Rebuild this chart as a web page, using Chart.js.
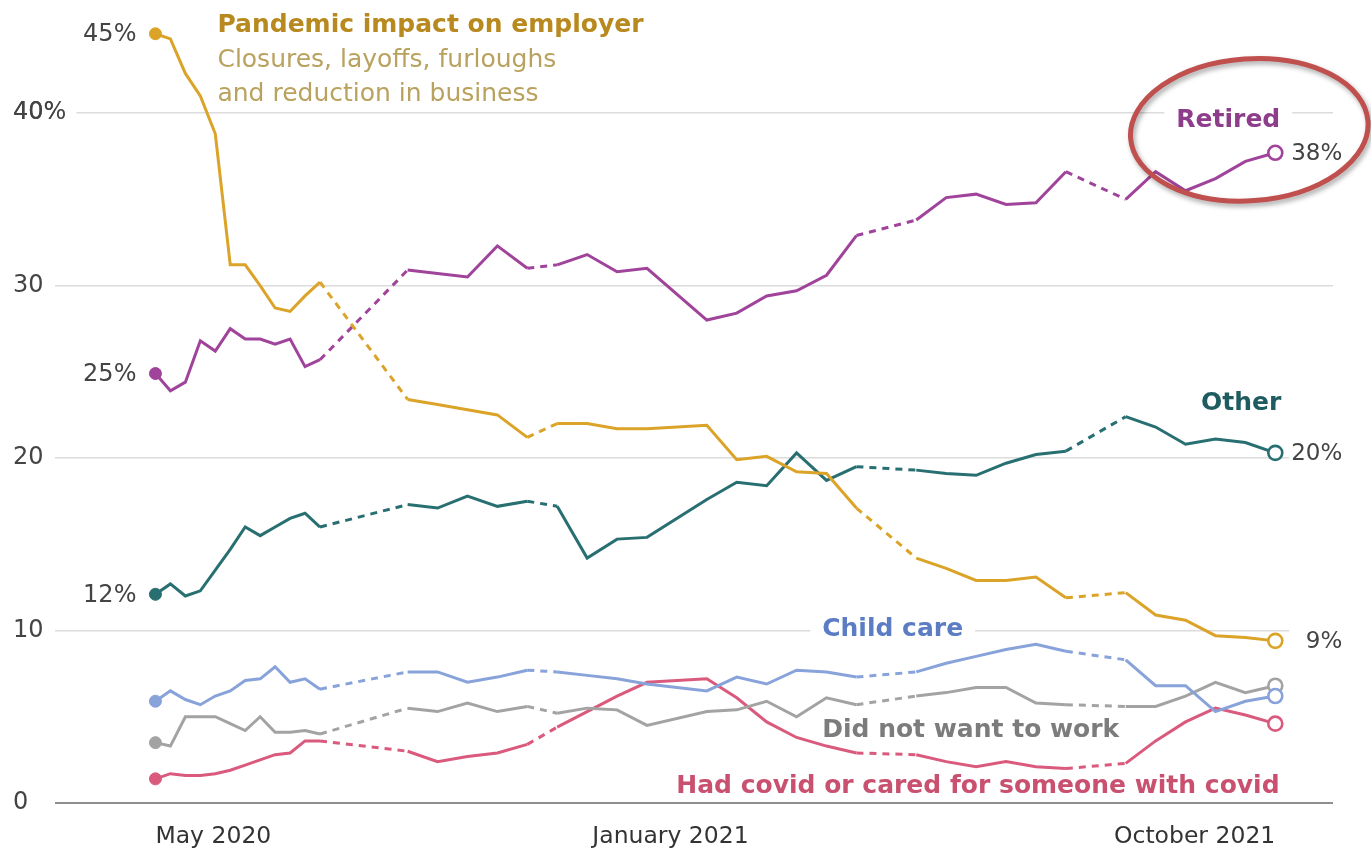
<!DOCTYPE html>
<html lang="en">
<head>
<meta charset="UTF-8">
<title>Reasons for not working</title>
<script src="https://cdn.jsdelivr.net/npm/chart.js"></script>
<style>
  html, body { margin: 0; padding: 0; background: #fff; }
  #wrap { width: 1371px; height: 850px; }
</style>
</head>
<body>
<div id="wrap"><canvas id="chart" width="1371" height="850"></canvas></div>
<script>
// survey week end dates: phase 1, 2, 3, 3.1, 3.2
const surveyDates = [
  '2020-05-05', '2020-05-12', '2020-05-19', '2020-05-26', '2020-06-02', '2020-06-09',
  '2020-06-16', '2020-06-23', '2020-06-30', '2020-07-07', '2020-07-14', '2020-07-21',
  '2020-08-31', '2020-09-14', '2020-09-28', '2020-10-12', '2020-10-26',
  '2020-11-09', '2020-11-23', '2020-12-07', '2020-12-21', '2021-01-18', '2021-02-01',
  '2021-02-15', '2021-03-01', '2021-03-15', '2021-03-29',
  '2021-04-26', '2021-05-10', '2021-05-24', '2021-06-07', '2021-06-21', '2021-07-05',
  '2021-08-02', '2021-08-16', '2021-08-30', '2021-09-13', '2021-09-27', '2021-10-11'
];
// last week of each phase; the step to the next phase is dashed
const phaseEnds = [11, 16, 26, 32];

const pandemic = [
  44.6, 44.3, 42.3, 41.0, 38.8, 31.2, 31.2, 30.0, 28.7, 28.5, 29.4, 30.2,
  23.4, 23.1, 22.8, 22.5, 21.2,
  22.0, 22.0, 21.7, 21.7, 21.9, 19.9, 20.1, 19.2, 19.1, 17.1,
  14.2, 13.6, 12.9, 12.9, 13.1, 11.9,
  12.2, 10.9, 10.6, 9.7, 9.6, 9.4
];
const retired = [
  24.9, 23.9, 24.4, 26.8, 26.2, 27.5, 26.9, 26.9, 26.6, 26.9, 25.3, 25.7,
  30.9, 30.7, 30.5, 32.3, 31.0,
  31.2, 31.8, 30.8, 31.0, 28.0, 28.4, 29.4, 29.7, 30.6, 32.9,
  33.8, 35.1, 35.3, 34.7, 34.8, 36.6,
  35.0, 36.6, 35.5, 36.2, 37.2, 37.7
];
const other = [
  12.1, 12.7, 12.0, 12.3, 13.5, 14.7, 16.0, 15.5, 16.0, 16.5, 16.8, 16.0,
  17.3, 17.1, 17.8, 17.2, 17.5,
  17.2, 14.2, 15.3, 15.4, 17.6, 18.6, 18.4, 20.3, 18.7, 19.5,
  19.3, 19.1, 19.0, 19.7, 20.2, 20.4,
  22.4, 21.8, 20.8, 21.1, 20.9, 20.3
];
const childCare = [
  5.9, 6.5, 6.0, 5.7, 6.2, 6.5, 7.1, 7.2, 7.9, 7.0, 7.2, 6.6,
  7.6, 7.6, 7.0, 7.3, 7.7,
  7.6, 7.4, 7.2, 6.9, 6.5, 7.3, 6.9, 7.7, 7.6, 7.3,
  7.6, 8.1, 8.5, 8.9, 9.2, 8.8,
  8.3, 6.8, 6.8, 5.3, 5.9, 6.2
];
const notWant = [
  3.5, 3.3, 5.0, 5.0, 5.0, 4.6, 4.2, 5.0, 4.1, 4.1, 4.2, 4.0,
  5.5, 5.3, 5.8, 5.3, 5.6,
  5.2, 5.5, 5.4, 4.5, 5.3, 5.4, 5.9, 5.0, 6.1, 5.7,
  6.2, 6.4, 6.7, 6.7, 5.8, 5.7,
  5.6, 5.6, 6.2, 7.0, 6.4, 6.8
];
const hadCovid = [
  1.4, 1.7, 1.6, 1.6, 1.7, 1.9, 2.2, 2.5, 2.8, 2.9, 3.6, 3.6,
  3.0, 2.4, 2.7, 2.9, 3.4,
  4.4, 5.3, 6.2, 7.0, 7.2, 6.1, 4.7, 3.8, 3.3, 2.9,
  2.8, 2.4, 2.1, 2.4, 2.1, 2.0,
  2.3, 3.6, 4.7, 5.5, 5.1, 4.6
];

const xTickDates = ['2020-05-05', '2021-01-01', '2021-10-11'];
const xTickLabels = ['May 2020', 'January 2021', 'October 2021'];
const yTicks = [0, 10, 20, 30, 40];

const FONT = "'DejaVu Sans', sans-serif";
const Y_TICK_SIZE = 24;
const Y_TICK_COLOR = '#444';
const origin = Date.UTC(2020, 4, 5);
function dayOf(s) {
  const [y, m, d] = s.split('-').map(Number);
  return (Date.UTC(y, m - 1, d) - origin) / 86400000;
}
function yLabel(v) { return v === yTicks[yTicks.length - 1] ? v + '%' : String(v); }

function series(label, values, color) {
  const last = values.length - 1;
  return {
    label,
    data: values.map((v, i) => ({ x: dayOf(surveyDates[i]), y: v })),
    borderColor: color,
    borderWidth: 3,
    tension: 0,
    clip: false,
    pointRadius: c => c.dataIndex === 0 ? 6 : c.dataIndex === last ? 7 : 0,
    pointHoverRadius: 0,
    pointBackgroundColor: c => c.dataIndex === last ? '#fff' : color,
    pointBorderColor: color,
    pointBorderWidth: c => c.dataIndex === last ? 2.6 : 1,
    segment: {
      borderDash: c => phaseEnds.includes(c.p0DataIndex) ? [7, 6] : undefined
    }
  };
}

// names placed at a date / value, baseline anchored
const nameLabels = [
  { text: 'Pandemic impact on employer', date: '2020-06-03', value: 44.7, align: 'left', color: '#B8891E', bold: true },
  { text: 'Closures, layoffs, furloughs', date: '2020-06-03', value: 42.7, align: 'left', color: '#B9A15E' },
  { text: 'and reduction in business', date: '2020-06-03', value: 40.7, align: 'left', color: '#B9A15E' },
  { text: 'Retired', date: '2021-09-19', value: 39.2, align: 'center', color: '#8E3D8B', bold: true },
  { text: 'Other', date: '2021-09-25', value: 22.8, align: 'center', color: '#1E5C60', bold: true },
  { text: 'Child care', date: '2021-03-13', value: 9.7, align: 'left', color: '#5C7DC3', bold: true },
  { text: 'Did not want to work', date: '2021-03-13', value: 3.8, align: 'left', color: '#7C7C7C', bold: true },
  { text: 'Had covid or cared for someone with covid', date: '2021-10-13', value: 0.6, align: 'right', color: '#C9506F', bold: true }
];
// which series get a start / end value label
const startValueFor = [0, 1, 2];
const endValueFor = [0, 1, 2];

const labelPlugin = {
  id: 'labels',
  beforeDatasetsDraw(chart) {
    const { ctx, chartArea, scales: { x, y } } = chart;
    ctx.save();
    // a tick label that runs into the plot pushes its grid line back
    ctx.font = Y_TICK_SIZE + 'px ' + FONT;
    ctx.textBaseline = 'middle';
    ctx.textAlign = 'left';
    yTicks.forEach(v => {
      const text = yLabel(v);
      const end = y.left + ctx.measureText(text).width;
      if (end > chartArea.left) {
        const py = y.getPixelForValue(v);
        ctx.fillStyle = '#fff';
        ctx.fillRect(chartArea.left, py - 3, end - chartArea.left + 10, 6);
        ctx.fillStyle = Y_TICK_COLOR;
        ctx.fillText(text, y.left, py);
      }
    });
    ctx.textBaseline = 'alphabetic';
    nameLabels.forEach(l => {
      ctx.font = (l.bold ? 'bold ' : '') + '25px ' + FONT;
      const px = x.getPixelForValue(dayOf(l.date));
      const py = y.getPixelForValue(l.value);
      const w = ctx.measureText(l.text).width;
      const left = l.align === 'left' ? px : l.align === 'right' ? px - w : px - w / 2;
      ctx.fillStyle = '#fff';
      ctx.fillRect(left - 12, py - 22, w + 24, 30);
      ctx.fillStyle = l.color;
      ctx.textAlign = l.align;
      ctx.fillText(l.text, px, py);
    });
    ctx.restore();
  },
  afterDatasetsDraw(chart) {
    const { ctx } = chart;
    ctx.save();
    ctx.font = '24px ' + FONT;
    ctx.textBaseline = 'middle';
    ctx.fillStyle = '#444';
    startValueFor.forEach(i => {
      const ds = chart.data.datasets[i];
      const pt = chart.getDatasetMeta(i).data[0];
      ctx.textAlign = 'right';
      ctx.fillText(Math.round(ds.data[0].y) + '%', pt.x - 19, pt.y + 1);
    });
    ctx.font = '23px ' + FONT;
    endValueFor.forEach(i => {
      const ds = chart.data.datasets[i];
      const pts = chart.getDatasetMeta(i).data;
      const pt = pts[pts.length - 1];
      const w = ctx.measureText('38%').width;
      ctx.fillStyle = '#fff';
      ctx.fillRect(pt.x + 14, pt.y - 14, w + 10, 28);
      ctx.fillStyle = '#444';
      ctx.textAlign = 'right';
      ctx.fillText(Math.round(ds.data[ds.data.length - 1].y) + '%', pt.x + 67, pt.y + 1);
    });
    ctx.restore();
  },
  afterDraw(chart) {
    // red ring around the latest Retired reading
    const { ctx } = chart;
    const pts = chart.getDatasetMeta(1).data;
    const pt = pts[pts.length - 1];
    ctx.save();
    ctx.strokeStyle = '#C0504D';
    ctx.lineWidth = 5;
    ctx.shadowColor = 'rgba(0,0,0,0.35)';
    ctx.shadowBlur = 5;
    ctx.shadowOffsetX = 2;
    ctx.shadowOffsetY = 3;
    ctx.beginPath();
    ctx.ellipse(pt.x - 26, pt.y - 23, 119, 71, -0.07, 0, Math.PI * 2);
    ctx.stroke();
    ctx.restore();
  }
};

Chart.defaults.font.family = FONT;

new Chart(document.getElementById('chart'), {
  type: 'line',
  data: {
    datasets: [
      series('Pandemic impact on employer', pandemic, '#DBA328'),
      series('Retired', retired, '#A0439A'),
      series('Other', other, '#286F72'),
      series('Child care', childCare, '#88A2DA'),
      series('Did not want to work', notWant, '#A3A3A3'),
      series('Had covid or cared for someone with covid', hadCovid, '#DA5A7E')
    ]
  },
  options: {
    responsive: false,
    devicePixelRatio: 1,
    animation: false,
    layout: { padding: { left: 13, right: 38, top: 7, bottom: 0 } },
    plugins: { legend: { display: false }, tooltip: { enabled: false } },
    scales: {
      x: {
        type: 'linear',
        min: -47,
        max: 551,
        grid: { display: false },
        border: { display: false },
        afterBuildTicks: s => { s.ticks = xTickDates.map(d => ({ value: dayOf(d) })); },
        afterFit: s => { s.height = 47; },
        ticks: {
          autoSkip: false,
          maxRotation: 0,
          align: 'inner',
          padding: 12,
          color: '#333',
          font: { size: 23.5 },
          callback: (v, i) => xTickLabels[i]
        }
      },
      y: {
        min: 0,
        max: 46,
        border: { display: false },
        afterBuildTicks: s => { s.ticks = yTicks.map(v => ({ value: v })); },
        afterFit: s => { s.width = 42; s.paddingTop = 0; s.paddingBottom = 0; },
        grid: {
          drawTicks: false,
          color: c => c.tick.value === 0 ? '#8f8f8f' : '#dcdcdc',
          lineWidth: c => c.tick.value === 0 ? 2 : 1.5
        },
        ticks: {
          crossAlign: 'far',
          padding: 0,
          color: Y_TICK_COLOR,
          font: { size: Y_TICK_SIZE },
          callback: v => yLabel(v)
        }
      }
    }
  },
  plugins: [labelPlugin]
});
</script>
</body>
</html>
